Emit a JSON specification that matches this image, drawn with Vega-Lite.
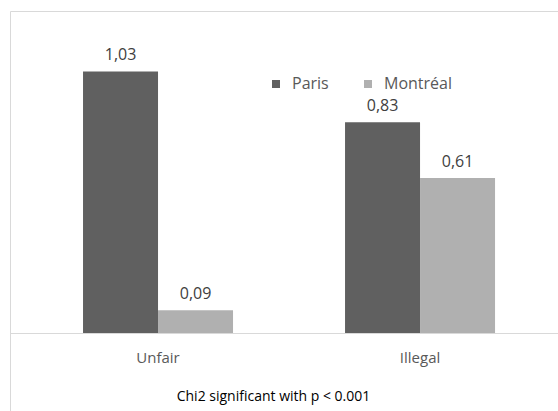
{
  "$schema": "https://vega.github.io/schema/vega-lite/v6.json",
  "width": 548,
  "height": 400,
  "padding": {"left": 10, "top": 11, "right": 0, "bottom": 0},
  "autosize": {"type": "none"},
  "background": "white",
  "config": {
    "view": {"stroke": "#d9d9d9", "strokeWidth": 1},
    "locale": {"number": {"decimal": ",", "thousands": " ", "grouping": [3], "currency": ["", " €"]}},
    "font": "Open Sans"
  },
  "data": {
    "values": [
      {"category": "Unfair", "city": "Paris", "value": 1.03},
      {"category": "Unfair", "city": "Montréal", "value": 0.09},
      {"category": "Illegal", "city": "Paris", "value": 0.83},
      {"category": "Illegal", "city": "Montréal", "value": 0.61}
    ]
  },
  "encoding": {
    "x": {
      "field": "category",
      "type": "nominal",
      "sort": ["Unfair", "Illegal"],
      "scale": {"paddingInner": 0.4275, "paddingOuter": 0.2595, "align": 0.537, "round": false},
      "axis": {
        "orient": "bottom",
        "offset": -78,
        "domainColor": "#d9d9d9",
        "ticks": false,
        "labelAngle": 0,
        "labelFontSize": 15,
        "labelColor": "#595959",
        "labelPadding": 17,
        "title": "Chi2 significant with p < 0.001",
        "titleFontWeight": "normal",
        "titleFontSize": 14,
        "titleColor": "#000000",
        "titlePadding": 24,
        "titleX": 263
      }
    },
    "xOffset": {"field": "city", "type": "nominal", "sort": ["Paris", "Montréal"], "scale": {"paddingInner": 0, "paddingOuter": 0}},
    "y": {
      "field": "value",
      "type": "quantitative",
      "scale": {"domain": [-0.3071, 1.2677], "nice": false, "zero": false},
      "axis": null
    }
  },
  "layer": [
    {
      "mark": {"type": "bar"},
      "encoding": {
        "color": {
          "field": "city",
          "type": "nominal",
          "sort": ["Paris", "Montréal"],
          "scale": {"range": ["#606060", "#b0b0b0"]},
          "legend": {
            "title": null,
            "orient": "none",
            "direction": "horizontal",
            "legendX": 258,
            "legendY": 65,
            "symbolType": "square",
            "symbolSize": 64,
            "symbolStrokeWidth": 0,
            "labelFontSize": 16,
            "labelColor": "#595959",
            "labelOffset": 8,
            "columnPadding": 31,
            "padding": 0
          }
        }
      }
    },
    {
      "mark": {"type": "text", "baseline": "alphabetic", "dy": -11, "fontSize": 16, "color": "#404040"},
      "encoding": {"text": {"field": "value", "type": "quantitative", "format": ".2f"}}
    }
  ]
}
